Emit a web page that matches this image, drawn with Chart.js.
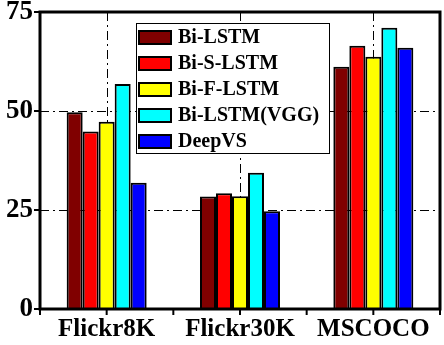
<!DOCTYPE html>
<html>
<head>
<meta charset="utf-8">
<script src="https://cdn.jsdelivr.net/npm/chart.js@4.4.1/dist/chart.umd.min.js"></script>
<style>
  html, body { margin: 0; padding: 0; background: #fff; }
  #wrap { width: 444px; height: 345px; }
</style>
</head>
<body>
<div id="wrap"><canvas id="chart"></canvas></div>
<script>
const categories = ['Flickr8K', 'Flickr30K', 'MSCOCO'];
const seriesNames = ['Bi-LSTM', 'Bi-S-LSTM', 'Bi-F-LSTM', 'Bi-LSTM(VGG)', 'DeepVS'];
const seriesColors = ['#800000', '#ff0000', '#ffff00', '#00ffff', '#0000ff'];
const biLstm = [49.7, 28.4, 61.2];
const biSLstm = [44.8, 29.2, 66.5];
const biFLstm = [47.3, 28.5, 63.7];
const biLstmVgg = [56.8, 34.4, 71.0];
const deepVs = [31.9, 24.7, 66.0];
const yTicks = [0, 25, 50, 75];

const serif = '"Liberation Serif", "Times New Roman", serif';
const values = [biLstm, biSLstm, biFLstm, biLstmVgg, deepVs];

// gridlines, frame, tick marks and the boxed legend inside the plot
const decor = {
  id: 'decor',
  beforeDatasetsDraw(chart) {
    const { ctx, chartArea: a, scales: { x, y } } = chart;
    ctx.save();
    ctx.strokeStyle = '#000';
    ctx.lineWidth = 1;
    ctx.setLineDash([9, 4, 2, 4]);
    yTicks.slice(1, -1).forEach(v => {
      const py = Math.round(y.getPixelForValue(v)) + 0.5;
      ctx.beginPath(); ctx.moveTo(a.left, py); ctx.lineTo(a.right, py); ctx.stroke();
    });
    categories.forEach((c, i) => {
      const px = Math.round(x.getPixelForValue(i)) + 0.5;
      ctx.beginPath(); ctx.moveTo(px, a.top); ctx.lineTo(px, a.bottom); ctx.stroke();
    });
    ctx.restore();
  },
  afterDatasetsDraw(chart) {
    const { ctx, chartArea: a, scales: { x, y } } = chart;
    ctx.save();
    ctx.strokeStyle = '#000';
    ctx.lineWidth = 3;
    ctx.strokeRect(a.left, a.top, a.right - a.left, a.bottom - a.top);
    ctx.lineWidth = 2;
    yTicks.forEach(v => {
      const py = y.getPixelForValue(v);
      ctx.beginPath(); ctx.moveTo(a.left - 6, py); ctx.lineTo(a.left, py); ctx.stroke();
    });
    const step = (x.getPixelForValue(1) - x.getPixelForValue(0)) / 2;
    for (let k = 0; k <= categories.length * 2; k++) {
      const px = x.getPixelForValue(0) - step + k * step;
      ctx.beginPath(); ctx.moveTo(px, a.bottom); ctx.lineTo(px, a.bottom + 6); ctx.stroke();
    }

    // legend
    const lx = 136, ly = 23, lw = 193, lh = 130;
    ctx.fillStyle = '#fff';
    ctx.fillRect(lx, ly, lw, lh);
    ctx.lineWidth = 1;
    ctx.strokeRect(lx + 0.5, ly + 0.5, lw, lh);
    ctx.font = 'bold 20px ' + serif;
    ctx.textBaseline = 'middle';
    seriesNames.forEach((name, i) => {
      const cy = ly + 14 + i * 26;
      ctx.fillStyle = seriesColors[i];
      ctx.fillRect(139, cy - 6, 32, 13);
      ctx.lineWidth = 2;
      ctx.strokeRect(139, cy - 6, 32, 13);
      ctx.fillStyle = '#000';
      ctx.fillText(name, 178, cy + 1);
    });
    ctx.restore();
  }
};

new Chart(document.getElementById('chart'), {
  type: 'bar',
  data: {
    labels: categories,
    datasets: seriesNames.map((name, i) => ({
      label: name,
      data: values[i],
      backgroundColor: seriesColors[i],
      borderColor: '#000',
      borderWidth: 2,
      categoryPercentage: 0.6,
      barPercentage: 1.0
    }))
  },
  options: {
    responsive: true,
    maintainAspectRatio: false,
    animation: false,
    layout: { padding: { top: 12, right: 4, left: 0, bottom: 0 } },
    plugins: { legend: { display: false }, tooltip: { enabled: false } },
    scales: {
      x: {
        grid: { display: false, drawTicks: false },
        border: { display: false },
        ticks: { color: '#000', padding: 6, font: { family: serif, size: 25, weight: 'bold' } },
        afterFit(scale) { scale.height = 36; scale.paddingLeft = 0; scale.paddingRight = 0; }
      },
      y: {
        min: 0,
        max: 75,
        grid: { display: false, drawTicks: false },
        border: { display: false },
        ticks: { stepSize: 25, color: '#000', padding: 7, font: { family: serif, size: 27, weight: 'bold' } },
        afterFit(scale) { scale.width = 40; scale.paddingTop = 0; scale.paddingBottom = 0; }
      }
    }
  },
  plugins: [decor]
});
</script>
</body>
</html>
